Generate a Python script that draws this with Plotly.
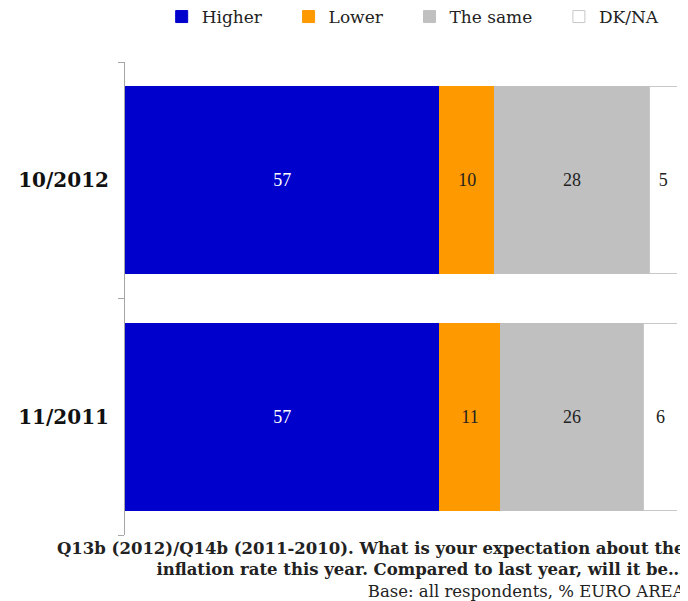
import plotly.graph_objects as go

categories = ["11/2011", "10/2012"]
higher = [57, 57]
lower = [11, 10]
same = [26, 28]
dkna = [6, 5]

NB = "\u00a0"
series = [
    ("Higher", higher, "#0000CC", "white", "#0000CC"),
    ("Lower", lower, "#FF9900", "#222222", "#FF9900"),
    ("The same", same, "#C0C0C0", "#222222", "#C0C0C0"),
    ("DK/NA", dkna, "#FFFFFF", "#222222", "#C8C8C8"),
]

fig = go.Figure()
for name, vals, color, tcolor, lcolor in series:
    fig.add_trace(go.Bar(
        y=categories, x=vals, name=name + NB * 4, orientation="h",
        marker=dict(color=color, line=dict(color=lcolor, width=1)),
        text=[str(v) for v in vals], textposition="inside",
        insidetextanchor="middle", textangle=0,
        textfont=dict(family="Liberation Serif", size=18, color=tcolor),
        hoverinfo="skip",
    ))

# page body has an 8px margin, so the figure is sized/offset accordingly
W, H = 680, 593
fig.update_layout(
    barmode="stack", bargap=0.21,
    width=W, height=H,
    margin=dict(l=117, r=11, t=54, b=66, autoexpand=False),
    plot_bgcolor="white", paper_bgcolor="white",
    showlegend=True,
    legend=dict(orientation="h", xref="container", yref="container",
                x=0.226, xanchor="left", y=1 - 9 / H, yanchor="middle",
                font=dict(family="DejaVu Serif", size=17, color="#222222"),
                traceorder="normal"),
    xaxis=dict(range=[0, 100], visible=False, fixedrange=True),
    yaxis=dict(showline=True, linecolor="#A6A6A6", linewidth=1, ticks="outside",
               tickson="boundaries", ticklen=6, tickcolor="#A6A6A6",
               tickfont=dict(family="DejaVu Serif", size=20, color="#111111"),
               showgrid=False, ticklabelstandoff=11),
)
fig.update_yaxes(tickvals=categories, ticktext=["<b>" + c + "</b>" for c in categories])

fig.add_annotation(
    xref="paper", yref="paper", x=(W - 117) / 552, y=0, yshift=-2,
    xanchor="right", yanchor="top", align="right", showarrow=False,
    text="<b>Q13b (2012)/Q14b (2011-2010). What is your expectation about the</b><br>"
         "<b>inflation rate this year. Compared to last year, will it be…</b><br>"
         "Base: all respondents, % EURO AREA",
    font=dict(family="DejaVu Serif", size=16.5, color="#222222"),
)

fig.write_html("out.html")
